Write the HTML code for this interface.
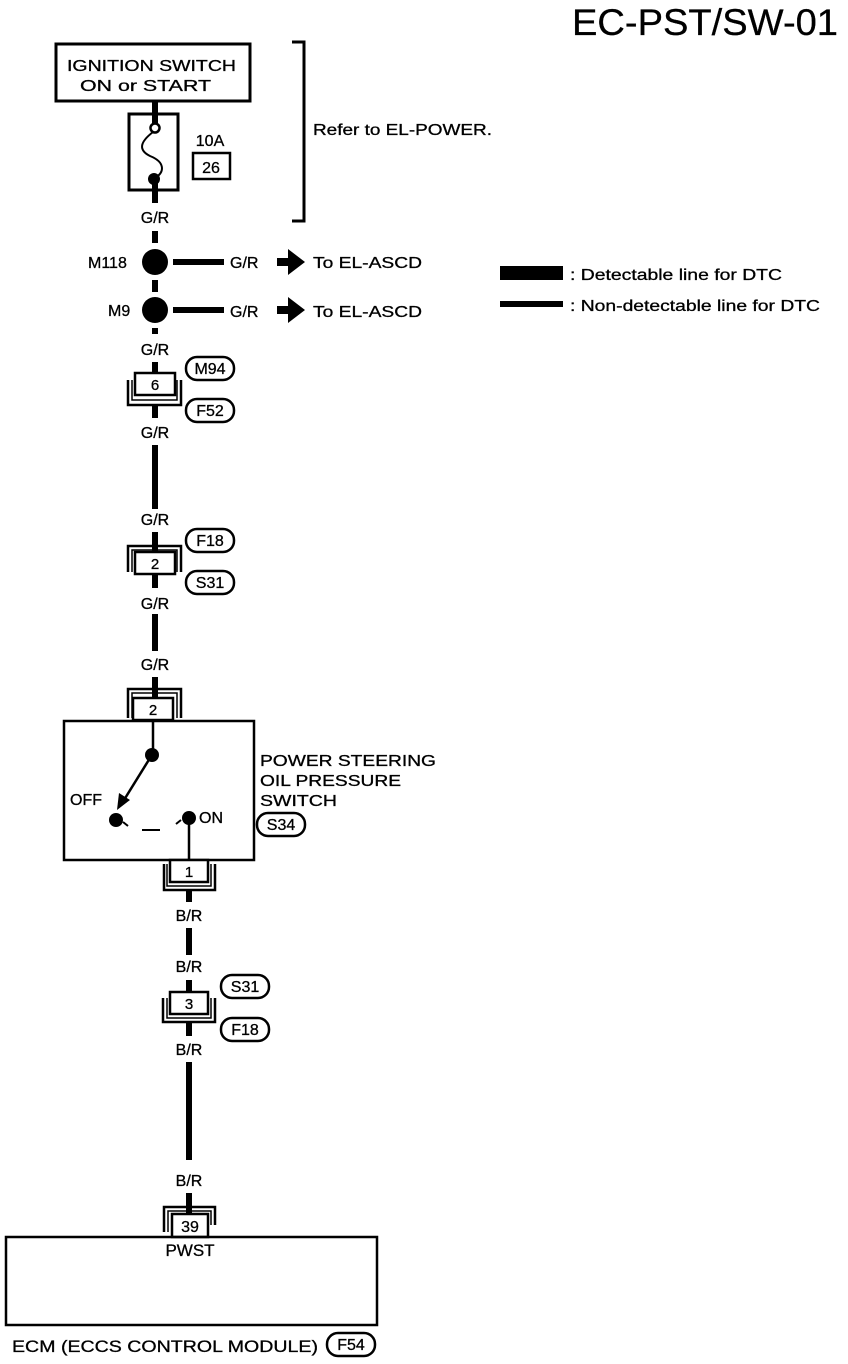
<!DOCTYPE html>
<html><head><meta charset="utf-8"><style>
html,body{margin:0;padding:0;background:#fff;}
svg{display:block;}
text{font-family:"Liberation Sans",Arial,sans-serif;fill:#000;stroke:#000;stroke-width:0.3;}
</style></head><body>
<svg width="848" height="1364" viewBox="0 0 848 1364" xmlns="http://www.w3.org/2000/svg">
<g font-size="17">
<text x="572" y="35" font-size="37" textLength="266" lengthAdjust="spacingAndGlyphs">EC-PST/SW-01</text>

<rect x="56" y="44" width="194" height="57" fill="none" stroke="#000" stroke-width="3"/>
<text x="67" y="71" font-size="16" textLength="169" lengthAdjust="spacingAndGlyphs">IGNITION SWITCH</text>
<text x="80" y="91" font-size="16" textLength="131" lengthAdjust="spacingAndGlyphs">ON or START</text>
<line x1="155" y1="101" x2="155" y2="124" stroke="#000" stroke-width="6"/>
<rect x="129" y="114" width="49" height="76" fill="none" stroke="#000" stroke-width="3"/>
<circle cx="155" cy="128" r="4.5" fill="#fff" stroke="#000" stroke-width="2.5"/>
<path d="M153,132 C140,142 138,150 150,156 C165,162 165,172 155,178" fill="none" stroke="#000" stroke-width="2"/>
<circle cx="154" cy="179" r="6" fill="#000"/>
<line x1="155" y1="183" x2="155" y2="203" stroke="#000" stroke-width="6"/>
<text x="210" y="146" text-anchor="middle" font-size="16">10A</text>
<rect x="193" y="153" width="37" height="26" fill="none" stroke="#000" stroke-width="2.5"/>
<text x="211" y="173" text-anchor="middle" font-size="16">26</text>
<path d="M292,42 H304 V221 H292" fill="none" stroke="#000" stroke-width="3"/>
<text x="313" y="135" font-size="16" textLength="179" lengthAdjust="spacingAndGlyphs">Refer to EL-POWER.</text>

<text x="155" y="223" text-anchor="middle" font-size="16">G/R</text>
<line x1="155" y1="231" x2="155" y2="243" stroke="#000" stroke-width="6"/>
<circle cx="155" cy="262" r="13" fill="#000"/>
<text x="88" y="268" font-size="16">M118</text>
<line x1="173" y1="262" x2="224" y2="262" stroke="#000" stroke-width="6"/>
<text x="230" y="268" font-size="16">G/R</text>
<path d="M277,258 H288 V249 L305,262 L288,275 V266 H277 Z" fill="#000"/>
<text x="313" y="268" font-size="16" textLength="109" lengthAdjust="spacingAndGlyphs">To EL-ASCD</text>
<line x1="155" y1="280" x2="155" y2="292" stroke="#000" stroke-width="6"/>
<circle cx="155" cy="310" r="13" fill="#000"/>
<text x="108" y="316" font-size="16">M9</text>
<line x1="173" y1="310" x2="224" y2="310" stroke="#000" stroke-width="6"/>
<text x="230" y="317" font-size="16">G/R</text>
<path d="M277,306 H288 V297 L305,310 L288,323 V314 H277 Z" fill="#000"/>
<text x="313" y="317" font-size="16" textLength="109" lengthAdjust="spacingAndGlyphs">To EL-ASCD</text>

<rect x="500" y="266" width="63" height="14" fill="#000"/>
<text x="570" y="280" font-size="16" textLength="212" lengthAdjust="spacingAndGlyphs">: Detectable line for DTC</text>
<rect x="500" y="301" width="63" height="6" fill="#000"/>
<text x="570" y="311" font-size="16" textLength="250" lengthAdjust="spacingAndGlyphs">: Non-detectable line for DTC</text>

<line x1="155" y1="328" x2="155" y2="334" stroke="#000" stroke-width="6"/>
<text x="155" y="355" text-anchor="middle" font-size="16">G/R</text>
<line x1="155" y1="362" x2="155" y2="373" stroke="#000" stroke-width="6"/>
<rect x="135" y="373" width="40" height="22" fill="#fff" stroke="#000" stroke-width="2.5"/>
<text x="155" y="390" text-anchor="middle" font-size="15">6</text>
<path d="M128,380 V405 H181 V380" fill="none" stroke="#000" stroke-width="2.5"/>
<path d="M132,380 V400 H177 V380" fill="none" stroke="#000" stroke-width="1.5"/>
<line x1="155" y1="405" x2="155" y2="418" stroke="#000" stroke-width="6"/>
<rect x="186" y="357" width="48" height="23" rx="11" fill="none" stroke="#000" stroke-width="2.5"/>
<text x="210" y="374" text-anchor="middle" font-size="16">M94</text>
<rect x="186" y="399" width="48" height="23" rx="11" fill="none" stroke="#000" stroke-width="2.5"/>
<text x="210" y="416" text-anchor="middle" font-size="16">F52</text>
<text x="155" y="438" text-anchor="middle" font-size="16">G/R</text>
<line x1="155" y1="445" x2="155" y2="509" stroke="#000" stroke-width="6"/>
<text x="155" y="525" text-anchor="middle" font-size="16">G/R</text>
<line x1="155" y1="532" x2="155" y2="552" stroke="#000" stroke-width="6"/>
<path d="M128,572 V546 H181 V572" fill="none" stroke="#000" stroke-width="2.5"/>
<path d="M132,572 V550 H177 V572" fill="none" stroke="#000" stroke-width="1.5"/>
<rect x="135" y="552" width="40" height="22" fill="#fff" stroke="#000" stroke-width="2.5"/>
<text x="155" y="569" text-anchor="middle" font-size="15">2</text>
<line x1="155" y1="574" x2="155" y2="588" stroke="#000" stroke-width="6"/>
<rect x="186" y="529" width="48" height="23" rx="11" fill="none" stroke="#000" stroke-width="2.5"/>
<text x="210" y="546" text-anchor="middle" font-size="16">F18</text>
<rect x="186" y="571" width="48" height="23" rx="11" fill="none" stroke="#000" stroke-width="2.5"/>
<text x="210" y="588" text-anchor="middle" font-size="16">S31</text>
<text x="155" y="609" text-anchor="middle" font-size="16">G/R</text>
<line x1="155" y1="614" x2="155" y2="651" stroke="#000" stroke-width="6"/>
<text x="155" y="670" text-anchor="middle" font-size="16">G/R</text>
<line x1="155" y1="677" x2="155" y2="697" stroke="#000" stroke-width="6"/>
<path d="M128,718 V689 H181 V718" fill="none" stroke="#000" stroke-width="2.5"/>
<path d="M132,718 V693 H177 V718" fill="none" stroke="#000" stroke-width="1.5"/>
<rect x="133" y="698" width="40" height="22" fill="#fff" stroke="#000" stroke-width="2.5"/>
<text x="153" y="715" text-anchor="middle" font-size="15">2</text>
<rect x="64" y="721" width="190" height="139" fill="none" stroke="#000" stroke-width="2.5"/>
<line x1="153" y1="720" x2="153" y2="755" stroke="#000" stroke-width="2.5"/>
<circle cx="152" cy="755" r="7" fill="#000"/>
<line x1="150" y1="758" x2="124" y2="800" stroke="#000" stroke-width="2.5"/>
<path d="M117,810 L119,793 L130,800 Z" fill="#000"/>
<text x="70" y="805" font-size="16">OFF</text>
<circle cx="116" cy="820" r="7" fill="#000"/>
<path d="M123,822 L128,826 M142,830 H160 M176,824 L181,820" stroke="#000" stroke-width="2" fill="none"/>
<circle cx="189" cy="818" r="7" fill="#000"/>
<text x="199" y="823" font-size="16">ON</text>
<line x1="189" y1="818" x2="189" y2="862" stroke="#000" stroke-width="2.5"/>
<text x="260" y="766" font-size="16" textLength="176" lengthAdjust="spacingAndGlyphs">POWER STEERING</text>
<text x="260" y="786" font-size="16" textLength="141" lengthAdjust="spacingAndGlyphs">OIL PRESSURE</text>
<text x="260" y="806" font-size="16" textLength="77" lengthAdjust="spacingAndGlyphs">SWITCH</text>
<rect x="257" y="813" width="48" height="23" rx="11" fill="none" stroke="#000" stroke-width="2.5"/>
<text x="281" y="830" text-anchor="middle" font-size="16">S34</text>
<rect x="170" y="860" width="38" height="22" fill="#fff" stroke="#000" stroke-width="2.5"/>
<text x="189" y="877" text-anchor="middle" font-size="15">1</text>
<path d="M164,864 V890 H215 V864" fill="none" stroke="#000" stroke-width="2.5"/>
<path d="M167,864 V886 H211 V864" fill="none" stroke="#000" stroke-width="1.5"/>
<line x1="189" y1="890" x2="189" y2="902" stroke="#000" stroke-width="6"/>
<text x="189" y="921" text-anchor="middle" font-size="16">B/R</text>
<line x1="189" y1="928" x2="189" y2="955" stroke="#000" stroke-width="6"/>
<text x="189" y="972" text-anchor="middle" font-size="16">B/R</text>
<line x1="189" y1="980" x2="189" y2="992" stroke="#000" stroke-width="6"/>
<rect x="170" y="992" width="38" height="22" fill="#fff" stroke="#000" stroke-width="2.5"/>
<text x="189" y="1009" text-anchor="middle" font-size="15">3</text>
<path d="M163,998 V1022 H215 V998" fill="none" stroke="#000" stroke-width="2.5"/>
<path d="M167,998 V1018 H211 V998" fill="none" stroke="#000" stroke-width="1.5"/>
<line x1="189" y1="1022" x2="189" y2="1036" stroke="#000" stroke-width="6"/>
<rect x="221" y="975" width="48" height="23" rx="11" fill="none" stroke="#000" stroke-width="2.5"/>
<text x="245" y="992" text-anchor="middle" font-size="16">S31</text>
<rect x="221" y="1018" width="48" height="23" rx="11" fill="none" stroke="#000" stroke-width="2.5"/>
<text x="245" y="1035" text-anchor="middle" font-size="16">F18</text>
<text x="189" y="1055" text-anchor="middle" font-size="16">B/R</text>
<line x1="189" y1="1062" x2="189" y2="1160" stroke="#000" stroke-width="6"/>
<text x="189" y="1186" text-anchor="middle" font-size="16">B/R</text>
<line x1="189" y1="1193" x2="189" y2="1214" stroke="#000" stroke-width="6"/>
<path d="M164,1232 V1207 H215 V1225" fill="none" stroke="#000" stroke-width="2.5"/>
<path d="M168,1232 V1211 H211 V1225" fill="none" stroke="#000" stroke-width="1.5"/>
<rect x="172" y="1214" width="36" height="23" fill="#fff" stroke="#000" stroke-width="2.5"/>
<text x="190" y="1232" text-anchor="middle" font-size="16">39</text>
<rect x="6" y="1237" width="371" height="88" fill="none" stroke="#000" stroke-width="2.5"/>
<text x="190" y="1256" text-anchor="middle" font-size="17">PWST</text>
<text x="12" y="1352" font-size="17" textLength="306" lengthAdjust="spacingAndGlyphs">ECM (ECCS CONTROL MODULE)</text>
<rect x="327" y="1333" width="48" height="23" rx="11" fill="none" stroke="#000" stroke-width="2.5"/>
<text x="351" y="1350" text-anchor="middle" font-size="16">F54</text>
</g>
</svg>
</body></html>
